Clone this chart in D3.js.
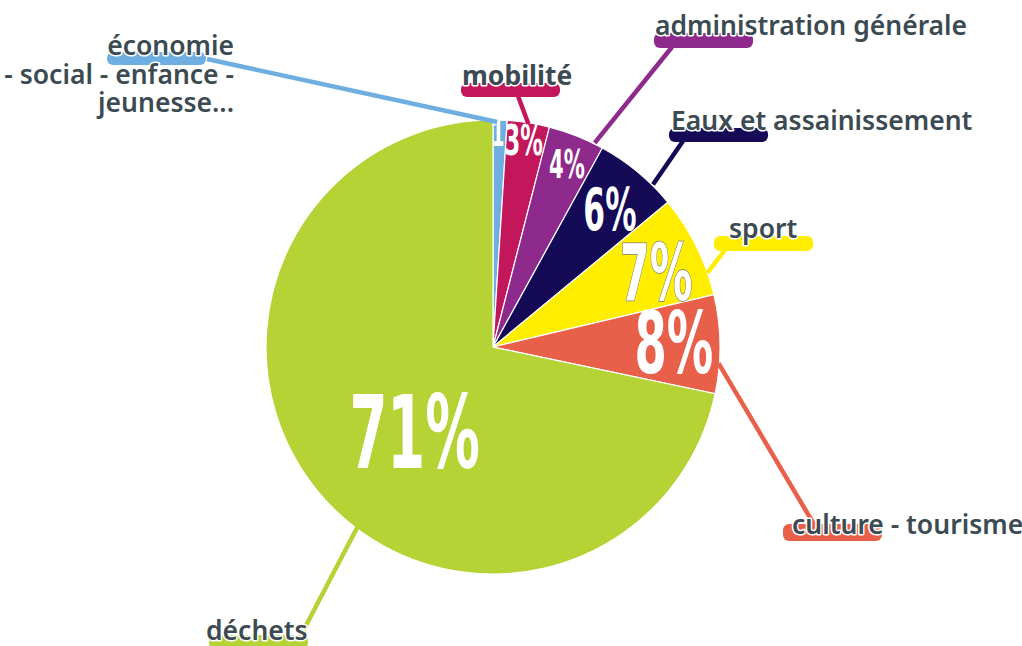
<!DOCTYPE html>
<html>
<head>
<meta charset="utf-8">
<script src="https://cdn.jsdelivr.net/npm/d3@7"></script>
<style>
  html, body { margin: 0; padding: 0; background: #fff; }
  svg { display: block; }
</style>
</head>
<body>
<svg id="chart" width="1022" height="646"></svg>
<script>
// ---- data ----
const categories = ["économie - social - enfance - jeunesse...", "mobilité", "administration générale", "Eaux et assainissement", "sport", "culture - tourisme", "déchets"];
const values = [1, 3, 4, 6, 7.3, 7, 71.7];
const pctLabels = ["1", "3%", "4%", "6%", "7%", "8%", "71%"];
const colors = ["#6eaee0", "#c2185b", "#8e2a8c", "#150a56", "#ffee00", "#e8604a", "#b5d334"];

// ---- layout ----
const W = 1022, H = 646;
const cx = 493, cy = 347, R = 227;
const textColor = "#3c4a52";
const pctScaleX = 0.6;

// percent label placement: fraction through slice, radius, font size
const pctLayout = [
  {frac: 0.36, r: 214, size: 35},
  {frac: 0.45, r: 209, size: 42},
  {frac: 0.53, r: 197, size: 39},
  {frac: 0.53, r: 181, size: 58},
  {frac: 0.56, r: 180, size: 79, outline: true},
  {frac: 0.46, r: 181, size: 86},
  {frac: 0.469, r: 115, size: 101}
];

// category label placement
const labLayout = [
  {lines: ["économie", "- social - enfance -", "jeunesse..."], x: 234, anchor: "end", y: 55, lh: 28.5,
   pill: {x: 107, y: 52, h: 13}, attach: [207, 59], frac: 0.3, r: 225},
  {lines: ["mobilité"], x: 462, anchor: "start", y: 85, bold: true,
   pill: {x: 461, y: 83, h: 14}, attach: [518, 96], frac: 0.5, r: 226},
  {lines: ["administration générale"], x: 655, anchor: "start", y: 35,
   pill: {x: 654, y: 33, h: 15}, attach: [672, 47], frac: 0.84, r: 228},
  {lines: ["Eaux et assainissement"], x: 671, anchor: "start", y: 130,
   pill: {x: 669, y: 128, h: 14}, attach: [683, 141], frac: 0.73, r: 228},
  {lines: ["sport"], x: 729, anchor: "start", y: 238,
   pill: {x: 714, y: 236, h: 15}, attach: [725, 250], frac: 0.78, r: 227},
  {lines: ["culture - tourisme"], x: 792, anchor: "start", y: 534,
   pill: {x: 783, y: 524, h: 17}, attach: [815, 526], frac: 0.69, r: 226},
  {lines: ["déchets"], x: 206, anchor: "start", y: 640,
   pill: {x: 209, y: 635, h: 14}, attach: [300, 637], frac: 0.446, r: 225}
];
const pillW = 99;

const svg = d3.select("#chart");

const pie = d3.pie().sort(null).value(d => d.value).startAngle(0).endAngle(2 * Math.PI);
const data = categories.map((c, i) => ({cat: c, value: values[i], color: colors[i], pct: pctLabels[i], i}));
const arcs = pie(data);
const arc = d3.arc().innerRadius(0).outerRadius(R);

const pt = (a, r) => [cx + r * Math.sin(a), cy - r * Math.cos(a)];

const g = svg.append("g");

// slices
g.selectAll("path.slice").data(arcs).join("path")
  .attr("class", "slice")
  .attr("transform", `translate(${cx},${cy})`)
  .attr("d", arc)
  .attr("fill", d => d.data.color)
  .attr("stroke", "#fff")
  .attr("stroke-width", 1.2);

// percent labels
const capH = 0.72;
g.selectAll("text.pct").data(arcs).join("text")
  .attr("class", "pct")
  .attr("transform", d => {
    const L = pctLayout[d.index];
    const a = d.startAngle + L.frac * (d.endAngle - d.startAngle);
    const [x, y] = pt(a, L.r);
    return `translate(${x},${y + L.size * capH / 2}) scale(${pctScaleX},1)`;
  })
  .attr("text-anchor", "middle")
  .attr("font-family", "'Liberation Sans Narrow', 'DejaVu Sans Condensed', sans-serif")
  .attr("font-weight", 700)
  .attr("font-size", d => pctLayout[d.index].size)
  .attr("fill", "#fff")
  .attr("stroke", d => pctLayout[d.index].outline ? "#777" : "none")
  .attr("stroke-width", 1.5)
  .attr("paint-order", "stroke")
  .text(d => d.data.pct);

// connectors
g.selectAll("line.conn").data(arcs).join("line")
  .attr("class", "conn")
  .each(function(d) {
    const L = labLayout[d.index];
    const a = d.startAngle + L.frac * (d.endAngle - d.startAngle);
    const [x, y] = pt(a, L.r);
    d3.select(this)
      .attr("x1", L.attach[0]).attr("y1", L.attach[1])
      .attr("x2", x).attr("y2", y);
  })
  .attr("stroke", d => d.data.color)
  .attr("stroke-width", 4.5)
  .attr("stroke-linecap", "butt");

// pills
g.selectAll("rect.pill").data(arcs).join("rect")
  .attr("class", "pill")
  .attr("x", d => labLayout[d.index].pill.x)
  .attr("y", d => labLayout[d.index].pill.y)
  .attr("width", pillW)
  .attr("height", d => labLayout[d.index].pill.h)
  .attr("rx", 6)
  .attr("fill", d => d.data.color);

// category texts
arcs.forEach(d => {
  const L = labLayout[d.index];
  L.lines.forEach((line, k) => {
    g.append("text")
      .attr("x", L.x)
      .attr("y", L.y + k * (L.lh || 0))
      .attr("text-anchor", L.anchor)
      .attr("font-family", "'Noto Sans', 'Open Sans', sans-serif")
      .attr("font-weight", L.bold ? 700 : 600)
      .attr("font-size", 26.5)
      .attr("fill", textColor)
      .attr("stroke", "#fff")
      .attr("stroke-width", 3)
      .attr("stroke-linejoin", "round")
      .attr("paint-order", "stroke")
      .text(line);
  });
});
</script>
</body>
</html>
